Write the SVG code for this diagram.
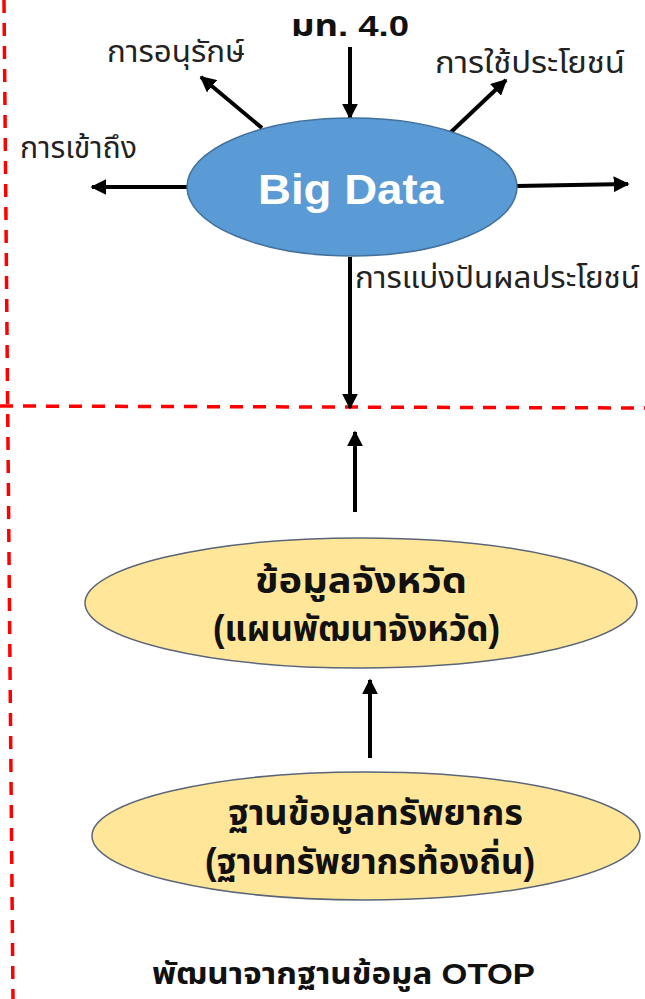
<svg xmlns="http://www.w3.org/2000/svg" width="645" height="999" viewBox="0 0 645 999">
<style>
.lbl{font-family:"Liberation Sans","Noto Sans Thai","Noto Sans",sans-serif;font-size:30px;fill:#222}
.bold{font-family:"Liberation Sans","Noto Sans Thai","Noto Sans",sans-serif;font-weight:bold;fill:#111}
.conn{stroke:#000;stroke-width:4;fill:none;marker-end:url(#ah)}
.red{stroke:#ff0000;stroke-width:3.5;stroke-dasharray:13 10;fill:none}
.yel{fill:#ffe699;stroke:#5a6578;stroke-width:1.5}
</style>
<defs>
<marker id="ah" viewBox="0 0 10 10" refX="9" refY="5" markerWidth="4" markerHeight="4" orient="auto" markerUnits="strokeWidth">
<path d="M0,0 L10,5 L0,10 z" fill="#000"/>
</marker>
</defs>
<rect width="645" height="999" fill="#fff"/>
<g id="guides">
<line class="red" x1="4" y1="0" x2="13" y2="999"/>
<line class="red" x1="0" y1="406" x2="645" y2="408"/>
</g>
<g id="connectors">
<line class="conn" x1="350" y1="47" x2="350" y2="118"/>
<line class="conn" x1="262" y1="128" x2="201" y2="77"/>
<line class="conn" x1="450" y1="133" x2="506" y2="80"/>
<line class="conn" x1="188" y1="187" x2="92" y2="187"/>
<line class="conn" x1="517" y1="186" x2="628" y2="184"/>
<line class="conn" x1="350" y1="257" x2="350" y2="408"/>
<line class="conn" x1="355" y1="512" x2="355" y2="432"/>
<line class="conn" x1="370" y1="758" x2="370" y2="680"/>
</g>
<g id="label-mt">
<text class="bold" x="291" y="36" font-size="30" textLength="118" lengthAdjust="spacingAndGlyphs">มท. 4.0</text>
</g>
<g id="label-conserve">
<text class="lbl" x="107" y="62" textLength="138" lengthAdjust="spacingAndGlyphs">การอนุรักษ์</text>
</g>
<g id="label-use">
<text class="lbl" x="435" y="73" textLength="190" lengthAdjust="spacingAndGlyphs">การใช้ประโยชน์</text>
</g>
<g id="label-access">
<text class="lbl" x="20" y="158" textLength="117" lengthAdjust="spacingAndGlyphs">การเข้าถึง</text>
</g>
<g id="label-share">
<text class="lbl" x="355" y="288" textLength="285" lengthAdjust="spacingAndGlyphs">การแบ่งปันผลประโยชน์</text>
</g>
<g id="bigdata">
<ellipse cx="352" cy="187" rx="165" ry="69" fill="#5b9bd5" stroke="#41719c" stroke-width="1.5"/>
<text class="bold" x="258" y="204" font-size="42" textLength="185" lengthAdjust="spacingAndGlyphs" style="fill:#fff">Big Data</text>
</g>
<g id="province">
<ellipse class="yel" cx="361" cy="603" rx="276" ry="65"/>
<text class="bold" x="255" y="593" font-size="36" textLength="212" lengthAdjust="spacingAndGlyphs">ข้อมูลจังหวัด</text>
<text class="bold" x="213" y="641" font-size="36" textLength="287" lengthAdjust="spacingAndGlyphs">(แผนพัฒนาจังหวัด)</text>
</g>
<g id="resource">
<ellipse class="yel" cx="366" cy="836" rx="274" ry="64"/>
<text class="bold" x="228" y="825" font-size="36" textLength="295" lengthAdjust="spacingAndGlyphs">ฐานข้อมูลทรัพยากร</text>
<text class="bold" x="205" y="874" font-size="36" textLength="330" lengthAdjust="spacingAndGlyphs">(ฐานทรัพยากรท้องถิ่น)</text>
</g>
<g id="label-otop">
<text class="bold" x="152" y="984" font-size="30" textLength="383" lengthAdjust="spacingAndGlyphs">พัฒนาจากฐานข้อมูล OTOP</text>
</g>
</svg>
